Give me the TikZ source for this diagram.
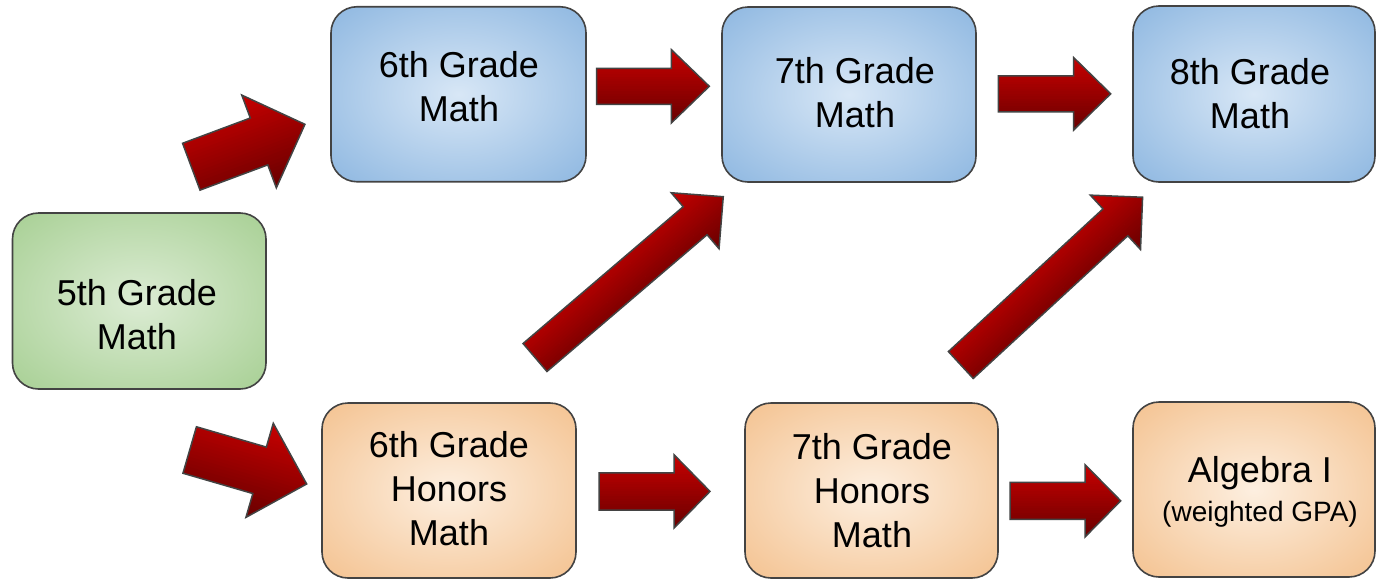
\documentclass[tikz,border=0pt]{standalone}
\usepackage{fontspec}
\setmainfont{Liberation Sans}
\definecolor{bluec}{RGB}{216,231,246}
\definecolor{bluee}{RGB}{112,164,216}
\definecolor{greenc}{RGB}{220,236,212}
\definecolor{greene}{RGB}{146,196,122}
\definecolor{orangec}{RGB}{253,239,224}
\definecolor{orangee}{RGB}{240,176,112}
\definecolor{arrowlight}{RGB}{200,0,0}
\definecolor{arrowdark}{RGB}{105,0,0}
\definecolor{edgegray}{RGB}{67,67,67}
\pgfdeclareradialshading{blueshade}{\pgfpoint{0bp}{0bp}}{color(0bp)=(bluec); color(50bp)=(bluee)}
\pgfdeclareradialshading{greenshade}{\pgfpoint{0bp}{0bp}}{color(0bp)=(greenc); color(50bp)=(greene)}
\pgfdeclareradialshading{orangeshade}{\pgfpoint{0bp}{0bp}}{color(0bp)=(orangec); color(50bp)=(orangee)}
\tikzset{
  box/.style={draw=edgegray, line width=1.6pt, rounded corners=26pt,
    minimum width=254pt, minimum height=175pt, inner sep=0pt, shade},
  bluebox/.style={box, shading=blueshade},
  greenbox/.style={box, shading=greenshade},
  orangebox/.style={box, shading=orangeshade},
  lbl/.style={align=center, font=\fontsize{36}{44}\selectfont, inner sep=0pt, text=black},
  arrowline/.style={draw=edgegray, line width=1.5pt, line join=miter},
}
% block arrow: #1 tail coordinate, #2 rotation, #3 length, #4 half shaft, #5 half head, #6 head length
\newcommand{\blockarr}[6]{%
\begin{scope}[shift={(#1)}, rotate=#2]
  \begin{scope}
    \clip (0,-#4) -- ({#3-#6},-#4) -- ({#3-#6},-#5) -- (#3,0) -- ({#3-#6},#5) -- ({#3-#6},#4) -- (0,#4) -- cycle;
    \foreach \i in {0,...,29}{%
      \pgfmathtruncatemacro\pp{100*(1-(\i+0.5)/30)}%
      \fill[arrowlight!\pp!arrowdark] (-3,{-#5+2*#5*\i/30}) rectangle ({#3+3},{-#5+2*#5*(\i+1)/30+0.7});
    }
  \end{scope}
  \draw[arrowline] (0,-#4) -- ({#3-#6},-#4) -- ({#3-#6},-#5) -- (#3,0) -- ({#3-#6},#5) -- ({#3-#6},#4) -- (0,#4) -- cycle;
\end{scope}}
\begin{document}
\begin{tikzpicture}[x=1pt, y=-1pt]
\useasboundingbox (0,0) rectangle (1376,581);
\fill[white] (0,0) rectangle (1376,581);

% boxes
\node[greenbox, minimum width=253.5pt, minimum height=176pt] (b5) at (139.25,301) {};
\node[bluebox, minimum width=255pt] (b6) at (458.5,94.25) {};
\node[bluebox] (b7) at (849,94.5) {};
\node[bluebox, minimum width=242pt, minimum height=176pt] (b8) at (1254,94) {};
\node[orangebox] (b6h) at (449,490.5) {};
\node[orangebox, minimum width=253pt] (b7h) at (871.5,490.5) {};
\node[orangebox, minimum width=242pt] (bal) at (1254,489.5) {};

% labels
\node[lbl] (l5) at (137,315) {5th Grade\\Math};
\node[lbl] (l6) at (459,87) {6th Grade\\Math};
\node[lbl] (l7) at (855,93) {7th Grade\\Math};
\node[lbl] (l8) at (1250,94) {8th Grade\\Math};
\node[lbl] (l6h) at (449,489) {6th Grade\\Honors\\Math};
\node[lbl] (l7h) at (872,491) {7th Grade\\Honors\\Math};
\node[lbl, font=\fontsize{36}{39}\selectfont] (lal) at (1260,492) {Algebra I\\{\fontsize{28}{34}\selectfont (weighted GPA)}};

% arrow tails
\coordinate (s1) at (191.3,166.7);
\coordinate (s4) at (189.7,450);
\coordinate (s2) at (596.7,86.3);
\coordinate (s3) at (998.3,93.8);
\coordinate (s5) at (599,491.4);
\coordinate (s6) at (1010,500.8);
\coordinate (s7) at (535,357.5);
\coordinate (s8) at (960.8,365);

\blockarr{s1}{20.45}{121.3}{25}{49.5}{49}
\blockarr{s4}{-16.2}{121.8}{24.2}{49}{49}
\blockarr{s2}{0}{112.6}{18}{36.7}{38}
\blockarr{s3}{0}{112.4}{18}{36.2}{37}
\blockarr{s5}{0}{111}{18.6}{36.7}{36}
\blockarr{s6}{0}{110.7}{18.5}{36.2}{35.7}
\blockarr{s7}{40.5}{247.6}{18.4}{36.8}{37}
\blockarr{s8}{42.7}{247.4}{18.3}{37}{37}
\end{tikzpicture}
\end{document}
